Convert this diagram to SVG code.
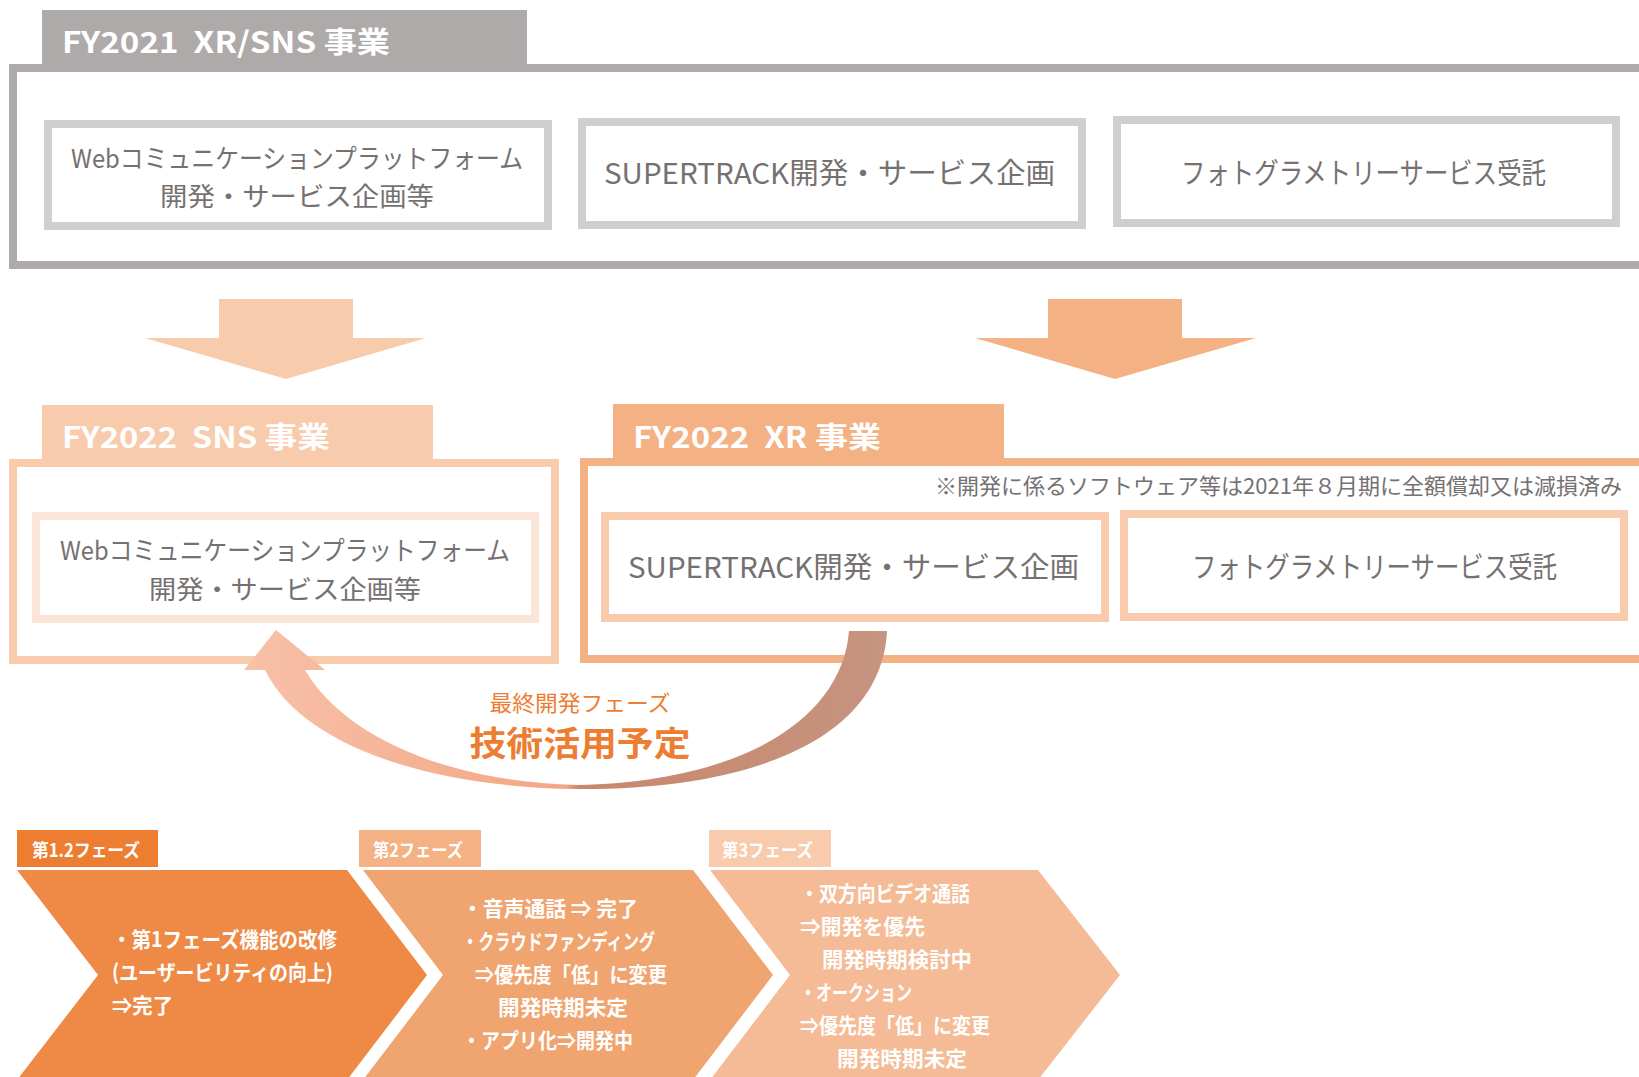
<svg xmlns="http://www.w3.org/2000/svg" width="1639" height="1077" viewBox="0 0 1639 1077">
<defs>
<style>
.jp{font-family:"Noto Sans CJK JP","Noto Sans",sans-serif;}
.tabt{font-family:"Noto Sans CJK JP","Noto Sans",sans-serif;font-weight:bold;fill:#ffffff;font-size:29px;}
.box{fill:#ffffff;stroke-width:8;}
.bt{font-family:"Noto Sans CJK JP","Noto Sans",sans-serif;fill:#767171;font-size:29px;}
.bt2{font-family:"Noto Sans CJK JP","Noto Sans",sans-serif;fill:#767171;font-size:26px;}
.ct{font-family:"Noto Sans CJK JP","Noto Sans",sans-serif;font-weight:bold;fill:#ffffff;font-size:21px;}
.pt{font-family:"Noto Sans CJK JP","Noto Sans",sans-serif;font-weight:bold;fill:#ffffff;font-size:18px;}
</style>
<linearGradient id="curveGrad" gradientUnits="userSpaceOnUse" x1="245" y1="0" x2="887" y2="0">
<stop offset="0" stop-color="#F7C1A8"/>
<stop offset="0.5" stop-color="#F3A685"/>
<stop offset="0.52" stop-color="#C8876C"/>
<stop offset="1" stop-color="#C69480"/>
</linearGradient>
</defs>
<rect width="1639" height="1077" fill="#ffffff"/>

<g id="fy2021">
<rect x="13" y="68" width="1700" height="197" fill="none" stroke="#AEAAAA" stroke-width="8"/>
<rect x="42" y="10" width="485" height="58" fill="#AEAAAA"/>
<text class="tabt" x="62" y="53" textLength="328" lengthAdjust="spacingAndGlyphs">FY2021&#160;&#160;XR/SNS 事業</text>
</g>
<g id="box-web-2021">
<rect class="box" x="48" y="124" width="500" height="102" stroke="#D0CECE"/>
<text class="bt2" x="71" y="168" textLength="452" lengthAdjust="spacingAndGlyphs">Webコミュニケーションプラットフォーム</text>
<text class="bt2" x="160" y="206" textLength="274" lengthAdjust="spacingAndGlyphs">開発・サービス企画等</text>
</g>
<g id="box-supertrack-2021">
<rect class="box" x="582" y="122" width="500" height="103" stroke="#D0CECE"/>
<text class="bt" x="604" y="184" textLength="451" lengthAdjust="spacingAndGlyphs">SUPERTRACK開発・サービス企画</text>
</g>
<g id="box-photo-2021">
<rect class="box" x="1117" y="120" width="499" height="103" stroke="#D0CECE"/>
<text class="bt" x="1181" y="184" textLength="365" lengthAdjust="spacingAndGlyphs">フォトグラメトリーサービス受託</text>
</g>

<g id="fy2022-sns">
<rect x="13" y="463" width="542" height="197" fill="none" stroke="#F8CBAD" stroke-width="8"/>
<rect x="42" y="405" width="391" height="58" fill="#F8CBAD"/>
<text class="tabt" x="62" y="448" textLength="268" lengthAdjust="spacingAndGlyphs">FY2022&#160;&#160;SNS 事業</text>
</g>
<g id="box-web-2022">
<rect class="box" x="36" y="516" width="499" height="103" stroke="#FBE5D6"/>
<text class="bt2" x="60" y="560" textLength="450" lengthAdjust="spacingAndGlyphs">Webコミュニケーションプラットフォーム</text>
<text class="bt2" x="149" y="599" textLength="272" lengthAdjust="spacingAndGlyphs">開発・サービス企画等</text>
</g>

<g id="fy2022-xr">
<rect x="584" y="462" width="1100" height="197" fill="none" stroke="#F4B183" stroke-width="8"/>
<rect x="613" y="404" width="391" height="58" fill="#F4B183"/>
<text class="tabt" x="633" y="448" textLength="248" lengthAdjust="spacingAndGlyphs">FY2022&#160;&#160;XR 事業</text>
<text class="jp" x="935" y="494" font-size="22" fill="#767171" textLength="687" lengthAdjust="spacingAndGlyphs">※開発に係るソフトウェア等は2021年８月期に全額償却又は減損済み</text>
</g>
<g id="box-supertrack-2022">
<rect class="box" x="605" y="516" width="500" height="102" stroke="#F8CBAD"/>
<text class="bt" x="628" y="578" textLength="451" lengthAdjust="spacingAndGlyphs">SUPERTRACK開発・サービス企画</text>
</g>
<g id="box-photo-2022">
<rect class="box" x="1124" y="514" width="500" height="103" stroke="#F8CBAD"/>
<text class="bt" x="1192" y="578" textLength="365" lengthAdjust="spacingAndGlyphs">フォトグラメトリーサービス受託</text>
</g>

<g id="connectors">
<path d="M219,299 L353,299 L353,338 L426,338 L286,379 L145,338 L219,338 Z" fill="#F8CBAD"/>
<path d="M1048,299 L1182,299 L1182,338 L1256,338 L1115,379 L975,338 L1048,338 Z" fill="#F4B183"/>
<path d="M887,631 C882,735 760,790 577,789 C420,787 300,742 265,670 L244,670 L276,630 L325,670 L305,670 C345,738 450,782 577,785 C740,782 842,720 849,631 Z" fill="url(#curveGrad)"/>
</g>

<g id="label-tech">
<text class="jp" x="580" y="711" font-size="22" fill="#ED7D31" text-anchor="middle" textLength="181" lengthAdjust="spacingAndGlyphs">最終開発フェーズ</text>
<text class="jp" x="580" y="756" font-size="34" font-weight="bold" fill="#ED7D31" text-anchor="middle" textLength="221" lengthAdjust="spacingAndGlyphs">技術活用予定</text>
</g>

<g id="phase1">
<path d="M17,870 L347,870 L427,975 L347,1080 L17,1080 L98,975 Z" fill="#EE8A46"/>
<rect x="17" y="830" width="141" height="37" fill="#ED7D31"/>
<text class="pt" x="32" y="857" textLength="108" lengthAdjust="spacingAndGlyphs">第1.2フェーズ</text>
<text class="ct" x="112" y="947" textLength="225" lengthAdjust="spacingAndGlyphs">・第1フェーズ機能の改修</text>
<text class="ct" x="112" y="980" textLength="221" lengthAdjust="spacingAndGlyphs">(ユーザービリティの向上)</text>
<text class="ct" x="112" y="1013" textLength="61" lengthAdjust="spacingAndGlyphs">⇒完了</text>
</g>

<g id="phase2">
<path d="M363,870 L693,870 L773,975 L693,1080 L363,1080 L443,975 Z" fill="#F0A46F"/>
<rect x="359" y="830" width="122" height="37" fill="#F4B183"/>
<text class="pt" x="373" y="857" textLength="90" lengthAdjust="spacingAndGlyphs">第2フェーズ</text>
<text class="ct" x="462" y="916" textLength="176" lengthAdjust="spacingAndGlyphs">・音声通話 ⇒ 完了</text>
<text class="ct" x="462" y="949" textLength="193" lengthAdjust="spacingAndGlyphs">・クラウドファンディング</text>
<text class="ct" x="475" y="982" textLength="192" lengthAdjust="spacingAndGlyphs">⇒優先度「低」に変更</text>
<text class="ct" x="498" y="1015" textLength="130" lengthAdjust="spacingAndGlyphs">開発時期未定</text>
<text class="ct" x="462" y="1048" textLength="171" lengthAdjust="spacingAndGlyphs">・アプリ化⇒開発中</text>
</g>

<g id="phase3">
<path d="M710,870 L1038,870 L1120,975 L1038,1080 L710,1080 L790,975 Z" fill="#F4BB96"/>
<rect x="709" y="830" width="122" height="37" fill="#F8CBAD"/>
<text class="pt" x="722" y="857" textLength="91" lengthAdjust="spacingAndGlyphs">第3フェーズ</text>
<text class="ct" x="800" y="901" textLength="170" lengthAdjust="spacingAndGlyphs">・双方向ビデオ通話</text>
<text class="ct" x="800" y="934" textLength="125" lengthAdjust="spacingAndGlyphs">⇒開発を優先</text>
<text class="ct" x="822" y="967" textLength="150" lengthAdjust="spacingAndGlyphs">開発時期検討中</text>
<text class="ct" x="800" y="1000" textLength="112" lengthAdjust="spacingAndGlyphs">・オークション</text>
<text class="ct" x="800" y="1033" textLength="190" lengthAdjust="spacingAndGlyphs">⇒優先度「低」に変更</text>
<text class="ct" x="837" y="1066" textLength="130" lengthAdjust="spacingAndGlyphs">開発時期未定</text>
</g>
</svg>
